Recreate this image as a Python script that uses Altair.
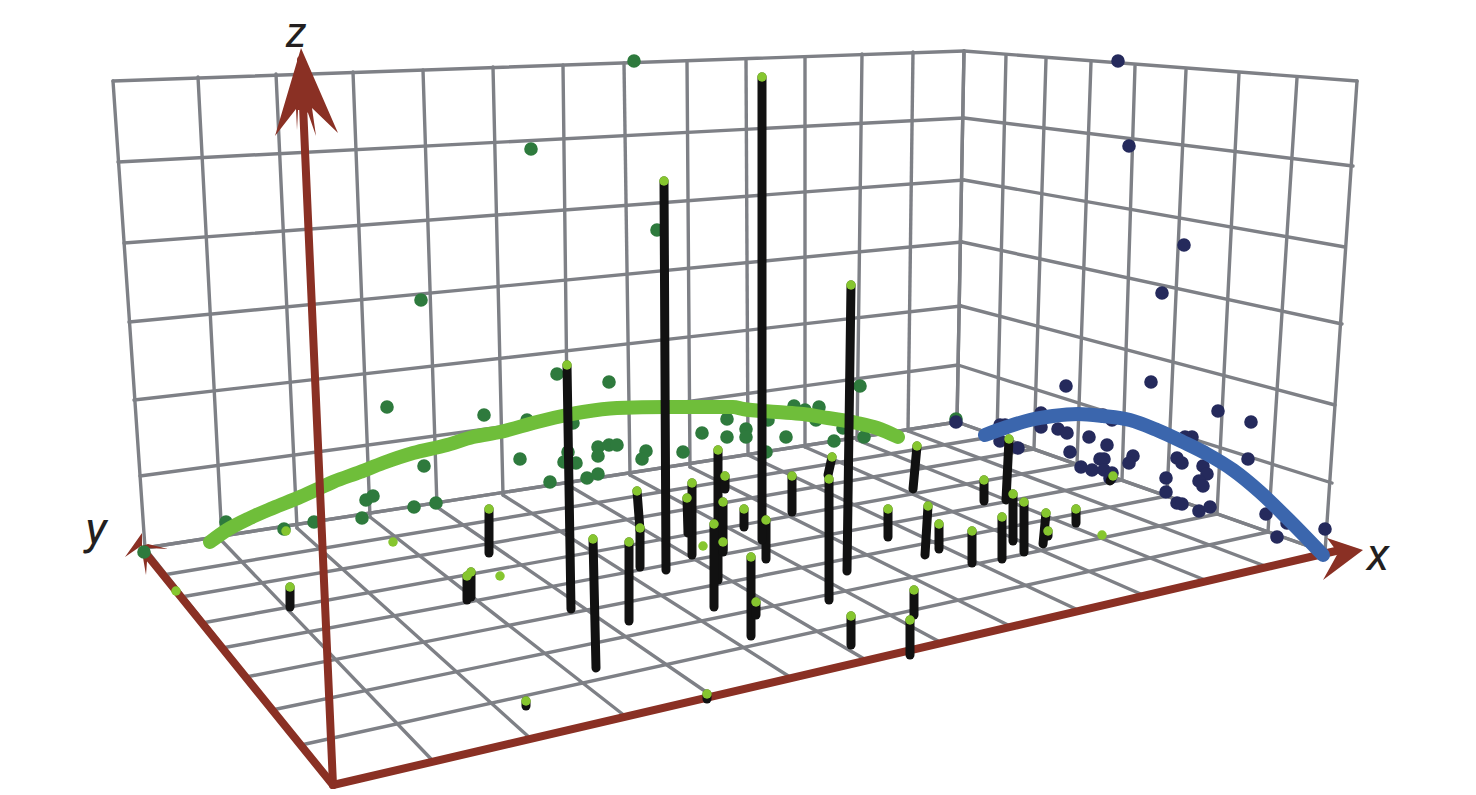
import altair as alt
import pandas as pd

# wall grid: (top/left end, bottom/right end)
left_wall_top = [(113,81),(198,77),(276,74),(353,72),(423,70),(493,67),(563,65),(624,63),(687,61),(746,59),(805,57),(862,54),(913,52),(964,51)]
left_wall_bottom = [(145,548),(222,541),(297,528),(370,517),(437,507),(503,495),(568,485),(630,475),(690,467),(748,455),(805,447),(857,440),(908,431),(957,422)]
left_wall_rows_l = [(113,81),(118,162),(124,243),(129,322),(134,400),(140,476),(145,548)]
left_wall_rows_r = [(964,51),(964,118),(964,180),(962,242),(961,306),(958,365),(957,422)]
right_wall_top = [(964,51),(1006,55),(1046,59),(1091,62),(1135,66),(1186,70),(1239,73),(1297,78),(1357,81)]
right_wall_bottom = [(957,422),(997,436),(1034,449),(1077,464),(1122,480),(1167,496),(1217,514),(1268,532),(1325,552)]
right_wall_rows_r = [(1357,81),(1353,166),(1345,247),(1342,324),(1335,405),(1332,483),(1325,552)]
floor_front = [(333,785),(433,761),(530,738),(625,716),(712,696),(790,677),(866,660),(940,642),(1010,626),(1078,610),(1143,595),(1205,580),(1265,566),(1325,552)]
floor_left = [(145,548),(163,575),(181,597),(202,623),(222,648),(246,677),(272,710),(301,745),(333,785)]

green_curve = [(210,542),(227,530),(250,518),(273,508),(300,497),(320,488),(333,482),(360,472),(383,463),(413,453),(447,445),(473,437),(500,432),(537,422),(567,415),(583,412),(617,408),(667,407),(700,407),(733,407),(743,409),(777,412),(803,414),(828,418),(857,423),(877,428),(898,437)]
blue_curve = [(985,435),(1007,427),(1030,420),(1053,416),(1078,414),(1103,416),(1130,420),(1157,430),(1183,442),(1207,454),(1233,470),(1260,492),(1287,518),(1323,555)]

green_points = [(634,61),(531,149),(657,230),(421,300),(387,407),(424,466),(484,415),(557,374),(609,382),(527,420),(520,459),(550,482),(573,423),(568,452),(564,462),(576,463),(587,478),(598,474),(598,447),(598,456),(609,445),(617,445),(646,451),(642,459),(683,452),(702,433),(727,419),(727,437),(746,429),(746,437),(768,420),(766,452),(786,437),(794,406),(805,410),(819,407),(816,420),(843,428),(834,441),(864,437),(860,386),(956,419),(226,522),(284,529),(314,522),(362,518),(366,500),(373,496),(414,507),(436,503)]
green_corner = [(144,552)]
navy_points = [(1118,61),(1129,146),(1184,245),(1162,293),(1066,386),(1151,382),(1218,411),(1251,422),(1041,413),(1000,425),(1005,425),(1000,441),(1018,448),(1041,427),(1058,429),(1067,433),(1103,415),(1112,420),(1089,437),(1107,445),(1070,452),(1100,459),(1104,459),(1081,467),(1092,470),(1104,470),(1112,473),(1110,478),(1133,456),(1129,463),(1192,437),(1185,437),(1177,458),(1182,463),(1248,459),(1203,466),(1207,474),(1199,481),(1203,486),(1166,478),(1166,492),(1177,503),(1182,504),(1199,511),(1210,507),(1266,514),(1287,523),(1277,537),(1325,529),(956,422)]

stem_tops = [(567,365),(489,509),(593,539),(629,542),(637,491),(640,528),(664,181),(692,483),(687,498),(718,450),(725,476),(714,524),(723,502),(723,542),(744,509),(766,520),(762,77),(751,557),(756,602),(792,476),(832,457),(829,479),(851,285),(917,446),(888,509),(928,506),(939,524),(972,531),(984,480),(914,590),(851,616),(910,620),(1009,439),(1013,494),(1002,517),(1024,502),(1046,513),(1076,509),(1048,531),(1113,476),(290,587),(471,572),(467,576),(526,701),(707,694)]
stem_bottoms = [(571,609),(489,553),(596,668),(629,621),(640,530),(640,567),(666,570),(692,555),(688,533),(718,580),(725,489),(714,607),(723,550),(723,552),(744,527),(766,559),(762,540),(751,636),(756,615),(792,512),(828,475),(829,600),(847,571),(913,489),(888,537),(925,555),(939,549),(972,563),(984,501),(914,615),(851,645),(910,655),(1006,500),(1013,541),(1002,559),(1024,552),(1043,544),(1076,523),(1048,536),(1110,481),(290,607),(471,597),(467,600),(526,706),(707,699)]
lone_light = [(703,546),(286,531),(176,591),(393,542),(500,576),(1102,535)]

axis_origin = (333,785)
axis_ends = [(301,60),(143,550),(1340,550)]
head_anchors = [(301,48),(143,550),(1363,550)]
head_paths = [
    "M0 0L37 85L11 60L15 88L7 65L3 62L-3 62L-4 82L-5 61L-26 88Z",
    "M-1 -17L-18 7L-2 -4L3 25L5 -2L25 -1L5 -6L-1 -4Z",
    "M0 0L-36 -12L-25 3L-40 30Z",
]
axis_labels = ["z", "y", "x"]
label_positions = [(296,34),(96,530),(1378,556)]
label_sizes = [42, 47, 47]

GRID = "#7e8086"
RED = "#8a3024"
X = alt.X("x:Q", axis=None, scale=alt.Scale(domain=[8,1468]))
Y = alt.Y("y:Q", axis=None, scale=alt.Scale(domain=[8,787], reverse=True))


def segs(a, b):
    return pd.DataFrame([{"x":p[0],"y":p[1],"x2":q[0],"y2":q[1]} for p,q in zip(a,b)])


def pts(a):
    return pd.DataFrame([{"x":p[0],"y":p[1],"o":i} for i,p in enumerate(a)])


def rule(a, b, color, width):
    return alt.Chart(segs(a,b)).mark_rule(color=color, strokeWidth=width, strokeCap="round").encode(
        x=X, y=Y, x2="x2:Q", y2="y2:Q")


def dots(a, color, size):
    return alt.Chart(pts(a)).mark_point(filled=True, color=color, size=size, opacity=1, shape="circle", strokeWidth=0).encode(x=X, y=Y)


def curve(a, color, width):
    return alt.Chart(pts(a)).mark_line(color=color, strokeWidth=width, strokeCap="round", strokeJoin="round",
                                       interpolate="monotone").encode(x=X, y=Y, order="o:Q")


def head(i):
    return alt.Chart(pts([head_anchors[i]])).mark_point(
        shape=head_paths[i], filled=True, color=RED, size=4, opacity=1, strokeWidth=0).encode(x=X, y=Y)


def label(i):
    d = pd.DataFrame([{"x":label_positions[i][0],"y":label_positions[i][1],"t":axis_labels[i]}])
    return alt.Chart(d).mark_text(font="Roboto", fontStyle="italic", fontSize=label_sizes[i],
                                  color="#231f20", align="center", baseline="middle").encode(x=X, y=Y, text="t:N")


layers = [
    rule(left_wall_top, left_wall_bottom, GRID, 3.4),
    rule(left_wall_rows_l, left_wall_rows_r, GRID, 3.4),
    rule(right_wall_top, right_wall_bottom, GRID, 3.4),
    rule(left_wall_rows_r, right_wall_rows_r, GRID, 3.4),
    rule(left_wall_bottom, floor_front, GRID, 3.4),
    rule(floor_left, right_wall_bottom, GRID, 3.4),
    dots(green_points, "#2e7a3d", 185),
    dots(navy_points, "#252a5c", 185),
    curve(green_curve, "#6fbe3a", 14),
    rule([axis_origin]*3, axis_ends, RED, 8),
    head(0), head(1), head(2),
    curve(blue_curve, "#3b66ad", 14),
    dots(green_corner, "#2e7a3d", 185),
    rule(stem_tops, stem_bottoms, "#111111", 9),
    dots(stem_tops, "#86c62f", 90),
    dots(lone_light, "#86c62f", 90),
    label(0), label(1), label(2),
]

chart = alt.layer(*layers).properties(
    width=1460, height=779, padding=0, background="white"
).configure_view(stroke=None)

chart.save("out.html", embed_options={"renderer": "svg", "actions": False})
